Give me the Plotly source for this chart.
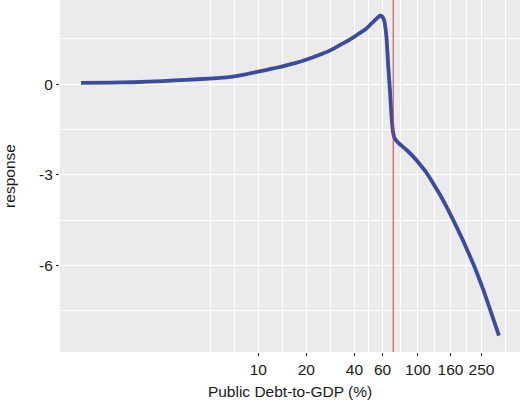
import plotly.graph_objects as go

# curve (debt-to-GDP in %, response)
debt = [0.776, 1.2, 1.64, 2.53, 3.5, 4.91, 6.94, 8.5, 10.0, 12.0, 14.0, 17.0,
        20.1, 24.0, 28.8, 32.4, 36.5, 40.3, 43.3, 47.0, 50.0, 52.5, 55.5, 57.8,
        59.5, 61.5, 62.6, 63.7, 65.2, 66.8, 68.4, 70.0, 71.2, 73.5, 77.1, 85.0,
        93.5, 103.0, 113.4, 124.0, 136.0, 149.7, 168.1, 189.4, 207.0, 227.5,
        256.4, 286.5, 321.5]
response = [0.04, 0.05, 0.06, 0.10, 0.14, 0.18, 0.25, 0.33, 0.41, 0.50, 0.58, 0.69,
            0.81, 0.96, 1.14, 1.29, 1.44, 1.58, 1.69, 1.81, 1.95, 2.06, 2.18, 2.26,
            2.24, 2.10, 1.85, 1.45, 0.56, -0.22, -1.11, -1.62, -1.78, -1.88, -1.99, -2.18,
            -2.40, -2.66, -2.94, -3.27, -3.62, -4.02, -4.55, -5.12, -5.58, -6.08,
            -6.80, -7.54, -8.32]

threshold = 70

x_ticks = [10, 20, 40, 60, 100, 160, 250]
x_minor = [5, 7.07, 14.14, 28.28, 48.99, 77.46, 126.5, 200, 353.6]
y_ticks = [0, -3, -6]
y_minor = [1.5, -1.5, -4.5, -7.5]

fig = go.Figure()

fig.add_trace(go.Scatter(x=debt, y=response, mode="lines",
                         line=dict(color="#3B4BA0", width=3.8, shape="spline", smoothing=0.5),
                         showlegend=False, hoverinfo="skip"))

fig.add_vline(x=threshold, line=dict(color="#C8403F", width=1))

axis_font = dict(family="Liberation Sans, Arial, sans-serif", size=15.5, color="#1a1a1a")

fig.update_xaxes(type="log", range=[-0.2417, 2.639], automargin=False,
                 tickmode="array", tickvals=x_ticks, ticktext=[str(v) for v in x_ticks],
                 ticks="outside", ticklen=3, tickwidth=1, tickcolor="#333333",
                 showgrid=True, gridcolor="white", gridwidth=1.1,
                 minor=dict(tickvals=x_minor, showgrid=True, gridcolor="white",
                            gridwidth=0.6, ticks=""),
                 zeroline=False, showline=False, tickfont=axis_font,
                 title=dict(text="Public Debt-to-GDP (%)", font=axis_font, standoff=9))

fig.update_yaxes(range=[-8.86, 2.78], automargin=False,
                 tickmode="array", tickvals=y_ticks, ticktext=[str(v) for v in y_ticks],
                 ticks="outside", ticklen=3, tickwidth=1, tickcolor="#333333",
                 showgrid=True, gridcolor="white", gridwidth=1.1,
                 minor=dict(tickvals=y_minor, showgrid=True, gridcolor="white",
                            gridwidth=0.6, ticks=""),
                 zeroline=False, showline=False, tickfont=axis_font,
                 title=dict(text="response", font=axis_font, standoff=19))

fig.update_layout(width=520, height=404,
                  margin=dict(l=60, r=0, t=0, b=52),
                  plot_bgcolor="#EBEBEB", paper_bgcolor="white")

# page has a default 8px body margin; drop it so the figure fills the window
fig.write_html("out.html", config={"displayModeBar": False},
               post_script="document.body.style.margin='0';document.body.style.overflow='hidden';")
